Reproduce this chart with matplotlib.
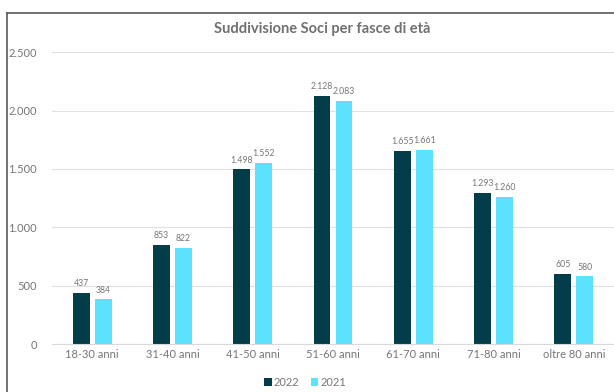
import matplotlib.pyplot as plt
from matplotlib.lines import Line2D
import numpy as np

categories = ["18-30 anni", "31-40 anni", "41-50 anni", "51-60 anni",
              "61-70 anni", "71-80 anni", "oltre 80 anni"]
soci_2022 = [437, 853, 1498, 2128, 1655, 1293, 605]
soci_2021 = [384, 822, 1552, 2083, 1661, 1260, 580]
yticks = [0, 500, 1000, 1500, 2000, 2500]
ytick_labels = ["0", "500", "1.000", "1.500", "2.000", "2.500"]

plt.rcParams['font.family'] = ['Lato', 'DejaVu Sans']

fig = plt.figure(figsize=(6.14, 3.92), dpi=100)
ax = fig.add_axes([0.0847, 0.122, 0.9153, 0.745])

x = np.arange(len(categories))
w = 0.21
off = 0.137
b1 = ax.bar(x - off, soci_2022, w, color='#033d4a', label='2022')
b2 = ax.bar(x + off, soci_2021, w, color='#5ce1fe', label='2021')


def fmt(v):
    return f"{v:,}".replace(",", ".")


for bars, vals in ((b1, soci_2022), (b2, soci_2021)):
    for rect, v in zip(bars, vals):
        ax.text(rect.get_x() + rect.get_width() / 2, v + 40, fmt(v),
                ha='center', va='bottom', fontsize=6.3, color='#767676')

ax.set_xlim(-0.5, len(categories) - 0.5)
ax.set_ylim(0, 2500)
ax.set_yticks(yticks)
ax.set_yticklabels(ytick_labels)
ax.set_xticks(x)
ax.set_xticklabels(categories)
ax.tick_params(axis='both', length=0, labelsize=8, colors='#767676')
ax.tick_params(axis='y', pad=11)
ax.grid(axis='y', color='#e0e0e0', linewidth=0.8)
ax.set_axisbelow(True)
for s in ('top', 'right', 'left'):
    ax.spines[s].set_visible(False)
ax.spines['bottom'].set_color('#d9d9d9')

fig.text(0.524, 0.925, "Suddivisione Soci per fasce di età", ha='center',
         va='center', fontsize=10.5, fontweight='bold', color='#707070')

fig.legend(handles=[b1, b2], loc='center', bbox_to_anchor=(0.497, 0.025),
           ncol=2, frameon=False, fontsize=8, handlelength=0.7,
           handleheight=0.7, handletextpad=0.2, columnspacing=1.0,
           labelcolor='#767676')

# outer chart border (left and top only, the rest is cropped)
fig.add_artist(Line2D([7 / 614, 7 / 614], [0, 1 - 13 / 392],
                      color='#595959', linewidth=1.2))
fig.add_artist(Line2D([7 / 614, 1], [1 - 13 / 392, 1 - 13 / 392],
                      color='#595959', linewidth=1.2))

fig.savefig("out.png", dpi=100)
